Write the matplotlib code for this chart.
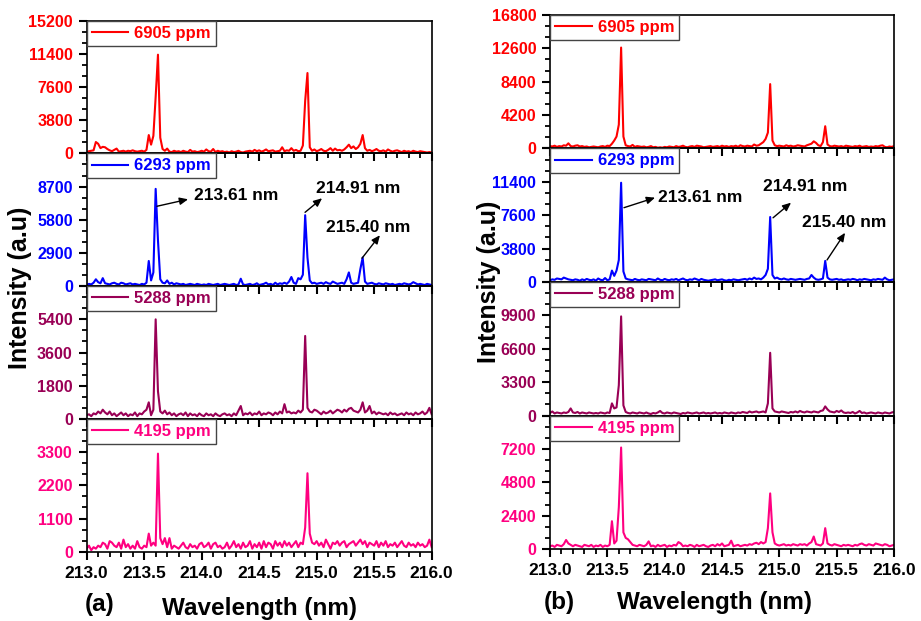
import numpy as np
import matplotlib
matplotlib.use("Agg")
import matplotlib.pyplot as plt
from matplotlib.ticker import MultipleLocator, AutoMinorLocator

plt.rcParams['font.family'] = ['Liberation Sans', 'DejaVu Sans']
plt.rcParams['font.weight'] = 'bold'

# wavelength sampling grid (nm), 0.02 nm step
wavelength = np.round(np.linspace(213.0, 216.0, 151), 2)

labels = ["6905 ppm", "6293 ppm", "5288 ppm", "4195 ppm"]
colors = ["#FF0000", "#0000FF", "#990055", "#FF0080"]

# ---- panel (a) ----
a_6905 = [150, 250, 300, 350, 1300, 1100, 600, 750, 700, 500,
          350, 250, 400, 550, 200, 250, 300, 200, 300, 250,
          350, 250, 200, 250, 300, 200, 400, 2100, 1000, 2000,
          6500, 11300, 1800, 500, 300, 550, 200, 150, 300, 200,
          250, 150, 300, 200, 150, 400, 200, 250, 150, 200,
          300, 200, 450, 250, 200, 500, 150, 300, 200, 250,
          150, 200, 100, 250, 150, 200, 300, 150, 100, 200,
          250, 300, 200, 400, 250, 350, 200, 300, 450, 250,
          300, 350, 200, 250, 300, 700, 250, 350, 300, 600,
          300, 400, 250, 300, 900, 6000, 9200, 700, 300, 450,
          250, 350, 500, 300, 250, 400, 600, 300, 550, 350,
          400, 300, 450, 700, 1000, 600, 800, 500, 700, 1100,
          2100, 600, 300, 400, 250, 350, 500, 300, 250, 350,
          200, 450, 300, 200, 300, 350, 250, 150, 300, 200,
          250, 150, 300, 200, 150, 250, 200, 150, 100, 150,
          100]
a_6293 = [100, 200, 150, 300, 600, 350, 250, 700, 250, 200,
          150, 250, 300, 200, 150, 300, 250, 150, 200, 250,
          150, 200, 150, 100, 200, 150, 300, 2200, 500, 1200,
          8500, 4000, 600, 300, 250, 500, 200, 300, 150, 250,
          200, 150, 200, 100, 150, 200, 150, 100, 200, 150,
          100, 150, 100, 200, 150, 100, 150, 200, 100, 150,
          200, 150, 100, 150, 200, 100, 150, 650, 150, 100,
          150, 200, 100, 150, 250, 100, 150, 200, 300, 150,
          200, 100, 300, 150, 250, 200, 300, 200, 400, 800,
          300, 200, 700, 600, 1000, 6200, 2500, 500, 250, 300,
          200, 250, 300, 200, 350, 250, 200, 400, 300, 200,
          250, 300, 200, 600, 1200, 300, 200, 250, 300, 1500,
          2500, 400, 200, 250, 300, 200, 150, 250, 200, 150,
          250, 200, 150, 200, 100, 150, 200, 150, 250, 200,
          150, 200, 350, 250, 150, 200, 150, 100, 200, 150,
          100]
a_5288 = [200, 250, 150, 300, 250, 400, 300, 500, 350, 250,
          400, 200, 300, 150, 250, 350, 200, 300, 150, 250,
          200, 350, 150, 300, 250, 400, 500, 900, 200, 500,
          5400, 1500, 400, 300, 450, 250, 350, 200, 300, 150,
          250, 300, 200, 350, 150, 300, 200, 250, 150, 300,
          200, 150, 300, 200, 250, 150, 300, 200, 150, 250,
          300, 200, 250, 150, 300, 200, 450, 700, 200, 300,
          250, 350, 200, 300, 250, 400, 200, 300, 250, 350,
          300, 200, 350, 250, 400, 300, 800, 350, 400, 300,
          350, 300, 450, 350, 500, 4500, 600, 400, 350, 500,
          450, 350, 250, 400, 300, 350, 450, 300, 400, 500,
          450, 350, 500, 400, 550, 600, 450, 400, 350, 500,
          900, 350, 450, 700, 300, 400, 250, 350, 300, 250,
          300, 200, 350, 250, 300, 200, 250, 300, 200, 350,
          250, 300, 200, 350, 250, 300, 400, 250, 350, 600,
          250]
a_4195 = [100, 200, 50, 150, 100, 200, 150, 300, 250, 100,
          350, 300, 200, 150, 300, 100, 400, 150, 250, 100,
          200, 100, 350, 150, 100, 200, 150, 600, 200, 300,
          200, 3250, 450, 250, 450, 150, 450, 100, 200, 150,
          100, 200, 300, 150, 100, 250, 150, 200, 100, 250,
          300, 150, 200, 300, 100, 250, 300, 150, 200, 100,
          150, 300, 100, 200, 350, 150, 250, 100, 300, 150,
          200, 350, 100, 250, 150, 300, 100, 350, 150, 300,
          250, 100, 350, 200, 300, 150, 350, 200, 300, 150,
          250, 350, 150, 300, 250, 800, 2600, 600, 300, 250,
          350, 200, 300, 150, 400, 250, 100, 300, 250, 350,
          200, 300, 350, 150, 250, 300, 350, 200, 300, 400,
          250, 350, 150, 300, 250, 200, 350, 150, 300, 200,
          350, 150, 250, 200, 300, 150, 250, 350, 200, 150,
          300, 200, 250, 150, 300, 200, 250, 150, 200, 400,
          150]

# ---- panel (b) ----
b_6905 = [300, 250, 350, 200, 300, 250, 400, 350, 650, 300,
          250, 350, 400, 250, 300, 200, 250, 150, 200, 250,
          200, 150, 250, 300, 200, 350, 300, 600, 1000, 1500,
          3000, 12700, 1500, 400, 300, 250, 450, 200, 300, 250,
          200, 250, 150, 200, 300, 150, 200, 100, 150, 100,
          200, 150, 250, 200, 150, 300, 200, 250, 350, 200,
          150, 250, 300, 200, 350, 300, 250, 150, 200, 250,
          300, 200, 250, 300, 200, 350, 250, 300, 200, 300,
          250, 350, 200, 400, 300, 250, 350, 300, 250, 500,
          350, 400, 600, 800, 1200, 2000, 8100, 1000, 400, 300,
          350, 300, 250, 400, 300, 350, 250, 300, 400, 350,
          300, 250, 400, 500, 600, 900, 700, 400, 300, 800,
          2800, 500, 300, 250, 350, 300, 250, 300, 200, 350,
          300, 250, 200, 300, 250, 350, 200, 250, 300, 200,
          250, 200, 300, 250, 350, 400, 200, 150, 250, 200,
          300]
b_6293 = [200, 300, 250, 400, 350, 300, 500, 400, 300, 250,
          200, 300, 250, 150, 300, 200, 350, 250, 200, 300,
          150, 400, 250, 200, 450, 200, 300, 1300, 700, 1300,
          2500, 11300, 1200, 400, 300, 250, 200, 350, 250, 200,
          300, 250, 200, 350, 300, 250, 200, 400, 250, 200,
          350, 250, 200, 300, 250, 350, 200, 300, 400, 250,
          200, 300, 250, 400, 300, 200, 350, 250, 200, 150,
          200, 250, 300, 200, 250, 300, 200, 150, 250, 200,
          300, 250, 200, 250, 300, 350, 250, 400, 300, 500,
          350, 400, 300, 500, 800, 1500, 7400, 800, 400, 500,
          350, 300, 400, 300, 250, 350, 300, 250, 300, 350,
          300, 250, 350, 400, 800, 500, 300, 250, 300, 400,
          2400, 500, 300, 250, 300, 350, 250, 300, 200, 250,
          300, 250, 350, 300, 200, 300, 250, 350, 300, 250,
          200, 300, 250, 350, 300, 250, 500, 300, 200, 250,
          300]
b_5288 = [250, 400, 200, 300, 250, 200, 300, 250, 350, 700,
          300, 250, 350, 200, 300, 250, 200, 300, 250, 200,
          250, 200, 300, 250, 200, 300, 250, 1200, 700, 800,
          3000, 9800, 1000, 350, 250, 200, 300, 250, 200, 300,
          250, 200, 300, 200, 150, 250, 200, 300, 450, 250,
          200, 300, 250, 200, 300, 250, 200, 150, 250, 200,
          300, 250, 200, 250, 300, 200, 250, 300, 200, 250,
          200, 250, 300, 200, 250, 200, 300, 250, 200, 300,
          250, 200, 300, 250, 350, 300, 250, 400, 300, 350,
          400, 300, 350, 400, 300, 1200, 6200, 700, 400, 350,
          300, 400, 350, 300, 250, 350, 300, 400, 300, 450,
          350, 300, 400, 350, 300, 400, 350, 300, 450, 500,
          900, 600, 400, 350, 300, 450, 350, 500, 300, 250,
          300, 250, 350, 200, 300, 450, 250, 300, 200, 250,
          300, 250, 200, 300, 250, 200, 300, 250, 200, 300,
          350]
b_4195 = [200, 250, 150, 300, 250, 200, 350, 650, 400, 300,
          200, 300, 250, 200, 150, 300, 250, 200, 300, 150,
          250, 200, 300, 150, 250, 200, 300, 2000, 400, 600,
          3000, 7300, 1200, 800, 700, 500, 300, 250, 200, 300,
          250, 200, 300, 550, 200, 250, 150, 300, 200, 250,
          300, 150, 250, 200, 300, 250, 500, 400, 200, 250,
          200, 300, 250, 150, 300, 200, 250, 300, 200, 150,
          250, 300, 200, 350, 250, 400, 200, 250, 300, 600,
          200, 250, 300, 200, 250, 300, 250, 350, 300, 400,
          450, 350, 500, 400, 500, 1500, 4000, 1200, 400, 300,
          250, 300, 350, 250, 300, 250, 350, 300, 250, 350,
          300, 350, 250, 400, 500, 900, 350, 300, 250, 400,
          1500, 400, 300, 250, 350, 300, 250, 200, 300, 250,
          300, 250, 200, 300, 250, 350, 400, 300, 250, 350,
          300, 250, 400, 350, 300, 250, 350, 300, 200, 250,
          300]

series_a = [a_6905, a_6293, a_5288, a_4195]
series_b = [b_6905, b_6293, b_5288, b_4195]
ytop_a = [15200, 11600, 7200, 4400]
ystep_a = [3800, 2900, 1800, 1100]
ytop_b = [16800, 15200, 13200, 9600]
ystep_b = [4200, 3800, 3300, 2400]

# peak annotations: (label, arrow tail, arrow head, text position) in data units
notes_a = [("213.61 nm", (213.611, 6980), (213.882, 7590), (213.934, 7940)),
           ("214.91 nm", (214.899, 6450), (215.047, 7680), (214.995, 8550)),
           ("215.40 nm", (215.394, 2440), (215.550, 4450), (215.081, 5150))]
notes_b = [("213.61 nm", (213.645, 8460), (213.916, 9600), (213.942, 9600)),
           ("214.91 nm", (214.945, 7310), (215.102, 9030), (214.857, 10860)),
           ("215.40 nm", (215.416, 2510), (215.573, 5600), (215.198, 6740))]

fig = plt.figure(figsize=(9.21, 6.21), dpi=100)


def draw_column(left, width, bottom, height, series, ytops, ysteps, notes):
    axes = []
    for i in range(4):
        ax = fig.add_axes([left, bottom + (3 - i) * height, width, height])
        ax.set_facecolor('none')
        ax.plot(wavelength, series[i], color=colors[i], lw=1.5, label=labels[i])
        ax.set_xlim(213.0, 216.0)
        ax.set_ylim(0, ytops[i])
        ticks = np.arange(0, ytops[i] + 1, ysteps[i])
        ax.set_yticks(ticks)
        tl = [str(int(t)) for t in ticks]
        if i > 0:
            tl[-1] = ""
        ax.set_yticklabels(tl)
        ax.yaxis.set_minor_locator(AutoMinorLocator(3))
        ax.xaxis.set_major_locator(MultipleLocator(0.5))
        ax.xaxis.set_minor_locator(MultipleLocator(0.1))
        ax.tick_params(which='major', direction='out', length=6, width=1.5,
                       labelsize=11.5, top=False, right=False)
        ax.tick_params(which='minor', direction='out', length=3.5, width=1.3,
                       top=False, right=False)
        ax.tick_params(axis='y', labelcolor=colors[i], pad=4)
        ax.tick_params(axis='x', labelsize=12.5, pad=4)
        if i < 3:
            ax.set_xticklabels([])
        else:
            ax.xaxis.set_major_formatter(plt.FormatStrFormatter('%.1f'))
        for sp in ax.spines.values():
            sp.set_linewidth(1.2)
        leg = ax.legend(loc='upper left', borderaxespad=0, fancybox=False,
                        edgecolor='#444444', framealpha=1, handlelength=2.2,
                        handletextpad=0.35, borderpad=0.3,
                        prop={'weight': 'bold', 'size': 12},
                        labelcolor='linecolor')
        leg.get_frame().set_linewidth(1.0)
        axes.append(ax)
    ax = axes[1]
    for txt, tail, head, pos in notes:
        ax.annotate('', xy=head, xytext=tail,
                    arrowprops=dict(arrowstyle='-|>,head_length=0.5,head_width=0.22',
                                    color='black', lw=1.0, shrinkA=0, shrinkB=0))
        ax.text(pos[0], pos[1], txt, ha='left', va='center', fontsize=12.5,
                fontweight='bold', color='black')
    return axes


draw_column(0.0941, 0.3746, 0.1116, 0.2138, series_a, ytop_a, ystep_a, notes_a)
draw_column(0.5972, 0.3735, 0.1159, 0.2150, series_b, ytop_b, ystep_b, notes_b)

fig.text(20 / 921, 1 - 288 / 621, "Intensity (a.u)", rotation=90, ha='center',
         va='center', fontsize=18, fontweight='bold')
fig.text(489 / 921, 1 - 282 / 621, "Intensity (a.u)", rotation=90, ha='center',
         va='center', fontsize=18, fontweight='bold')
fig.text(100 / 921, 1 - 605 / 621, "(a)", ha='center', va='center',
         fontsize=17.5, fontweight='bold')
fig.text(259 / 921, 1 - 609 / 621, "Wavelength (nm)", ha='center', va='center',
         fontsize=17.5, fontweight='bold')
fig.text(559 / 921, 1 - 603 / 621, "(b)", ha='center', va='center',
         fontsize=17.5, fontweight='bold')
fig.text(714 / 921, 1 - 603 / 621, "Wavelength (nm)", ha='center', va='center',
         fontsize=17.5, fontweight='bold')

fig.savefig("out.png", dpi=100)
